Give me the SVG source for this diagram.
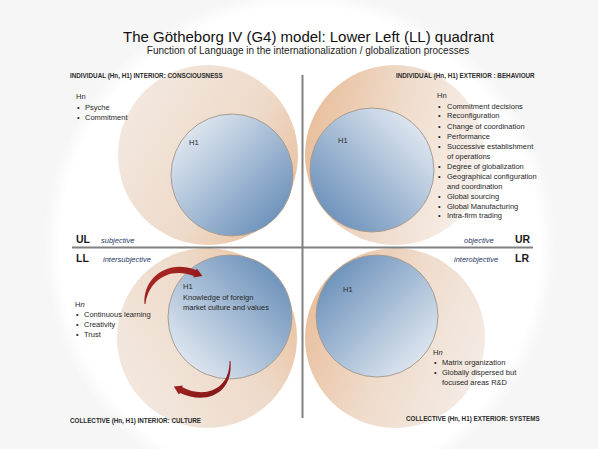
<svg xmlns="http://www.w3.org/2000/svg" width="598" height="449" viewBox="0 0 598 449">
<defs>
<radialGradient id="bgG" cx="0.5" cy="0.5" r="0.5">
<stop offset="0" stop-color="#ffffff"/><stop offset="0.93" stop-color="#ffffff"/><stop offset="1" stop-color="#f5f5f5"/>
</radialGradient>
<linearGradient id="begUL" x1="0" y1="0.2" x2="1" y2="0.8"><stop offset="0" stop-color="#f3e9e1"/><stop offset="0.6" stop-color="#eedac9"/><stop offset="1" stop-color="#e9bf9c"/></linearGradient>
<linearGradient id="begUR" x1="0" y1="0.4" x2="1" y2="0.6"><stop offset="0" stop-color="#e9bf9c"/><stop offset="0.5" stop-color="#efdccc"/><stop offset="1" stop-color="#f8f2ee"/></linearGradient>
<linearGradient id="begLL" x1="0" y1="0.8" x2="1" y2="0.2"><stop offset="0" stop-color="#f3e9e1"/><stop offset="0.6" stop-color="#eedac9"/><stop offset="1" stop-color="#e9bf9c"/></linearGradient>
<linearGradient id="begLR" x1="0" y1="0.3" x2="1" y2="0.7"><stop offset="0" stop-color="#e9bf9c"/><stop offset="0.5" stop-color="#efdccc"/><stop offset="1" stop-color="#f4ece6"/></linearGradient>
<linearGradient id="bluUL" x1="0" y1="0" x2="1" y2="1"><stop offset="0" stop-color="#f2f5f9"/><stop offset="1" stop-color="#5a84b2"/></linearGradient>
<linearGradient id="bluUR" x1="1" y1="0" x2="0" y2="1"><stop offset="0" stop-color="#f2f5f9"/><stop offset="1" stop-color="#5a84b2"/></linearGradient>
<linearGradient id="bluLL" x1="0" y1="1" x2="1" y2="0"><stop offset="0" stop-color="#f2f5f9"/><stop offset="1" stop-color="#5a84b2"/></linearGradient>
<linearGradient id="bluLR" x1="1" y1="1" x2="0" y2="0"><stop offset="0" stop-color="#f2f5f9"/><stop offset="1" stop-color="#5a84b2"/></linearGradient>
<linearGradient id="redG" x1="0" y1="0" x2="1" y2="1"><stop offset="0" stop-color="#b22a26"/><stop offset="1" stop-color="#7e1414"/></linearGradient>
<style>
.t{font-family:"Liberation Sans",Arial,sans-serif;fill:#262626}
.s{font-size:7.5px}
.lab{font-size:6.3px;font-weight:bold;fill:#2a2a2a}
.q{font-size:10.5px;font-weight:bold;fill:#1a1a1a}
.it{font-size:7.5px;font-style:italic;fill:#1f3864}
.blu{stroke:#a89c90;stroke-width:1}
.ax{stroke:#808080;stroke-width:2;fill:none}
.arr{fill:url(#redG)}
</style>
</defs>
<rect x="0" y="0" width="598" height="449" fill="#f6f6f6"/>
<circle cx="300" cy="247" r="258" fill="url(#bgG)"/>

<g id="title" class="t">
<text x="308.5" y="42" text-anchor="middle" style="font-size:15px;fill:#111">The Götheborg IV (G4) model: Lower Left (LL) quadrant</text>
<text x="308" y="54" text-anchor="middle" style="font-size:10px;fill:#222">Function of Language in the internationalization / globalization processes</text>
</g>

<g id="node-UL">
<circle cx="208" cy="155" r="90" fill="url(#begUL)"/>
<circle cx="232" cy="175" r="61" fill="url(#bluUL)" class="blu"/>
<g class="t">
<text class="lab" x="70" y="78">INDIVIDUAL (Hn, H1) INTERIOR: CONSCIOUSNESS</text>
<text class="s" x="76" y="99">Hn</text>
<text class="s" x="77" y="110">•</text><text class="s" x="85" y="110">Psyche</text>
<text class="s" x="77" y="120">•</text><text class="s" x="85" y="120">Commitment</text>
<text class="s" x="189" y="145">H1</text>
<text class="q" x="76" y="243">UL</text>
<text class="it" x="101" y="243">subjective</text>
</g>
</g>

<g id="node-UR">
<circle cx="395" cy="155" r="90" fill="url(#begUR)"/>
<circle cx="372" cy="170" r="62" fill="url(#bluUR)" class="blu"/>
<g class="t">
<text class="lab" x="396" y="78">INDIVIDUAL (Hn, H1) EXTERIOR : BEHAVIOUR</text>
<text class="s" x="338" y="143">H1</text>
<text class="s" x="437" y="98">Hn</text>
<text class="s" x="438" y="108.5">•</text><text class="s" x="447" y="108.5">Commitment decisions</text>
<text class="s" x="438" y="118">•</text><text class="s" x="447" y="118">Reconfiguration</text>
<text class="s" x="438" y="128.5">•</text><text class="s" x="447" y="128.5">Change of coordination</text>
<text class="s" x="438" y="138.5">•</text><text class="s" x="447" y="138.5">Performance</text>
<text class="s" x="438" y="149">•</text><text class="s" x="447" y="149">Successive establishment</text>
<text class="s" x="447" y="158.5">of operations</text>
<text class="s" x="438" y="168.5">•</text><text class="s" x="447" y="168.5">Degree of globalization</text>
<text class="s" x="438" y="179">•</text><text class="s" x="447" y="179">Geographical configuration</text>
<text class="s" x="447" y="188.5">and coordination</text>
<text class="s" x="438" y="198.5">•</text><text class="s" x="447" y="198.5">Global sourcing</text>
<text class="s" x="438" y="208.5">•</text><text class="s" x="447" y="208.5">Global Manufacturing</text>
<text class="s" x="438" y="218">•</text><text class="s" x="447" y="218">Intra-firm trading</text>
<text class="it" x="464" y="243">objective</text>
<text class="q" x="515" y="243">UR</text>
</g>
</g>

<g id="node-LL">
<circle cx="207" cy="338" r="90" fill="url(#begLL)"/>
<circle cx="230" cy="317" r="62" fill="url(#bluLL)" class="blu"/>
<g class="t">
<text class="q" x="76" y="262">LL</text>
<text class="it" x="103" y="262">intersubjective</text>
<text class="s" x="183" y="289">H1</text>
<text class="s" x="183" y="300">Knowledge of foreign</text>
<text class="s" x="183" y="310">market culture and values</text>
<text class="s" x="75" y="307">H<tspan font-style="italic">n</tspan></text>
<text class="s" x="76" y="317">•</text><text class="s" x="84" y="317">Continuous learning</text>
<text class="s" x="76" y="327">•</text><text class="s" x="84" y="327">Creativity</text>
<text class="s" x="76" y="337">•</text><text class="s" x="84" y="337">Trust</text>
<text class="lab" x="70" y="423">COLLECTIVE (Hn, H1) INTERIOR: CULTURE</text>
</g>
</g>

<g id="node-LR">
<circle cx="395" cy="338" r="90" fill="url(#begLR)"/>
<circle cx="377" cy="316" r="61" fill="url(#bluLR)" class="blu"/>
<g class="t">
<text class="it" x="454" y="262">interobjective</text>
<text class="q" x="515" y="262">LR</text>
<text class="s" x="343" y="292">H1</text>
<text class="s" x="433" y="355">H<tspan font-style="italic">n</tspan></text>
<text class="s" x="434" y="365">•</text><text class="s" x="442" y="365">Matrix organization</text>
<text class="s" x="434" y="374.5">•</text><text class="s" x="442" y="374.5">Globally dispersed but</text>
<text class="s" x="442" y="385">focused areas R&amp;D</text>
<text class="lab" x="406" y="421">COLLECTIVE (Hn, H1) EXTERIOR: SYSTEMS</text>
</g>
</g>

<g id="connectors">
<line class="ax" x1="72" y1="247.5" x2="533" y2="247.5"/>
<line class="ax" x1="302.5" y1="75" x2="302.5" y2="418"/>
<path class="arr" d="M144.5,304 C143,278 167,259 196,270 L196.9,268.4 L202.4,276 L193.1,277.6 L194,276 C168,266 148,282 145.5,304 Z"/>
<path class="arr" d="M230.5,361 C233.5,394 206,405 180,393 L178.8,394.5 L173.8,386.4 L183.2,385.5 L182,387 C204,399 230,390 229.5,361 Z"/>
</g>
</svg>
